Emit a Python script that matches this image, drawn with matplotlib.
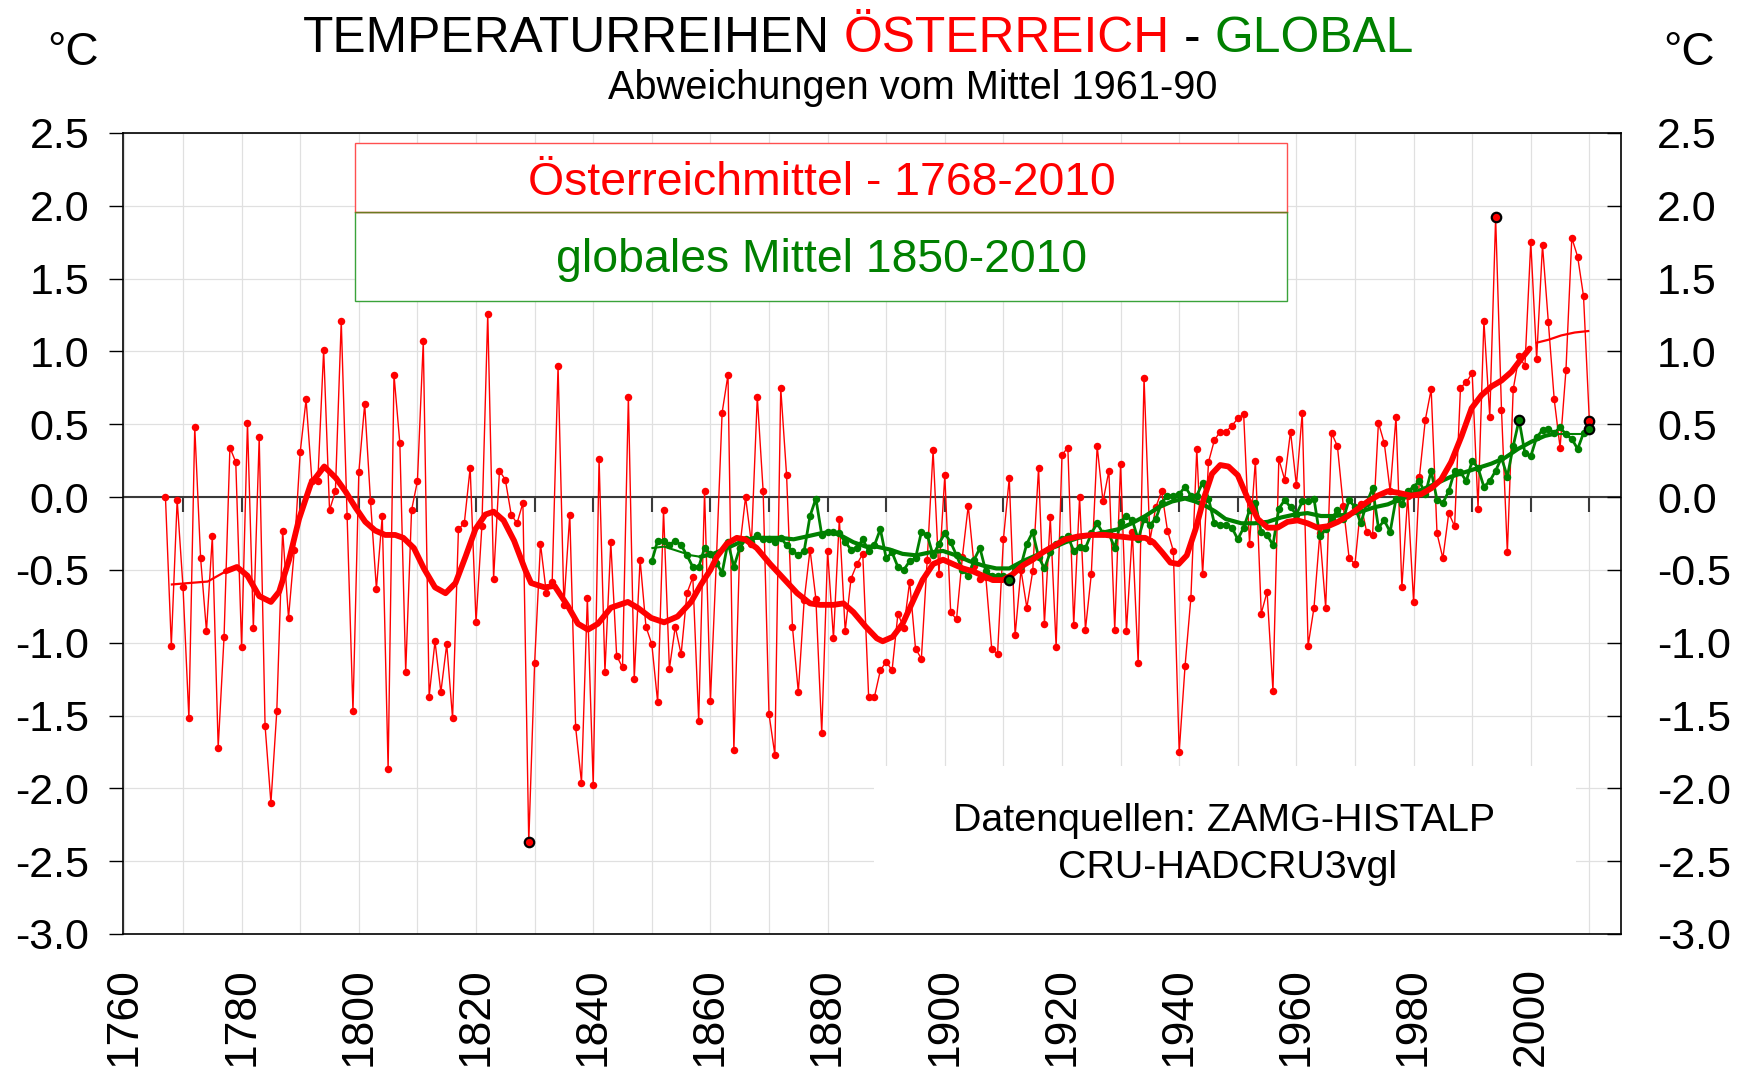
"""Temperaturreihen Österreich - global: annual anomalies vs. 1961-90 plus smoothed trends."""
import matplotlib

matplotlib.use("Agg")
import matplotlib.pyplot as plt
import numpy as np
from matplotlib.patches import Rectangle

plt.rcParams["font.family"] = ["Liberation Sans", "DejaVu Sans"]
plt.rcParams["axes.unicode_minus"] = False

RED = "#ff0000"
GREEN = "#008000"

# ── data ─────────────────────────────────────────────────────────────────────
aut_start = 1767
aut_vals = [
    # 1767-1798
    0.00, -1.02, -0.02, -0.62, -1.52, 0.48, -0.42, -0.92, -0.27, -1.72,
    -0.96, 0.34, 0.24, -1.03, 0.51, -0.90, 0.41, -1.57, -2.10, -1.47,
    -0.23, -0.83, -0.36, 0.31, 0.67, 0.11, 0.11, 1.01, -0.09, 0.04,
    1.21, -0.13,
    # 1799-1828
    -1.47, 0.17, 0.64, -0.03, -0.63, -0.13, -1.87, 0.84, 0.37, -1.20,
    -0.09, 0.11, 1.07, -1.37, -0.99, -1.34, -1.01, -1.52, -0.22, -0.18,
    0.20, -0.86, -0.20, 1.26, -0.56, 0.18, 0.12, -0.12, -0.18, -0.04,
    # 1829-1858
    -2.37, -1.14, -0.32, -0.66, -0.58, 0.90, -0.74, -0.12, -1.58, -1.96,
    -0.69, -1.98, 0.26, -1.20, -0.31, -1.09, -1.17, 0.69, -1.25, -0.43,
    -0.89, -1.01, -1.41, -0.09, -1.18, -0.89, -1.08, -0.66, -0.55, -1.54,
    # 1859-1888
    0.04, -1.40, -0.45, 0.58, 0.84, -1.74, -0.35, 0.00, -0.32, 0.69,
    0.04, -1.49, -1.77, 0.75, 0.15, -0.89, -1.34, -0.71, -0.36, -0.70,
    -1.62, -0.37, -0.97, -0.15, -0.92, -0.56, -0.46, -0.39, -1.37, -1.37,
    # 1889-1918
    -1.19, -1.13, -1.19, -0.80, -0.90, -0.58, -1.04, -1.11, -0.43, 0.32,
    -0.53, 0.15, -0.79, -0.84, -0.41, -0.06, -0.47, -0.56, -0.55, -1.04,
    -1.08, -0.29, 0.13, -0.95, -0.50, -0.76, -0.51, 0.20, -0.87, -0.14,
    # 1919-1948
    -1.03, 0.29, 0.34, -0.88, 0.00, -0.91, -0.53, 0.35, -0.03, 0.18,
    -0.91, 0.23, -0.92, -0.24, -1.14, 0.82, -0.30, -0.07, 0.04, -0.23,
    -0.37, -1.75, -1.16, -0.69, 0.33, -0.53, 0.24, 0.39, 0.45, 0.45,
    # 1949-1978
    0.49, 0.54, 0.57, -0.32, 0.25, -0.80, -0.65, -1.33, 0.26, 0.12,
    0.45, 0.08, 0.58, -1.02, -0.76, -0.25, -0.76, 0.44, 0.35, -0.06,
    -0.42, -0.46, -0.05, -0.24, -0.26, 0.51, 0.37, 0.04, 0.55, -0.62,
    # 1979-2010
    0.01, -0.72, 0.14, 0.53, 0.74, -0.25, -0.42, -0.11, -0.20, 0.75,
    0.79, 0.85, -0.08, 1.21, 0.55, 1.92, 0.60, -0.38, 0.74, 0.97,
    0.90, 1.75, 0.95, 1.73, 1.20, 0.67, 0.34, 0.87, 1.78, 1.65,
    1.38, 0.52,
]

glob_start = 1850
glob_vals = [
    # 1850-1858
    -0.44, -0.30, -0.30, -0.33, -0.30, -0.33, -0.40, -0.48, -0.48,
    # 1859-1888
    -0.35, -0.39, -0.45, -0.52, -0.31, -0.48, -0.35, -0.29, -0.31, -0.26,
    -0.29, -0.29, -0.31, -0.28, -0.33, -0.37, -0.40, -0.37, -0.13, -0.01,
    -0.26, -0.24, -0.24, -0.25, -0.31, -0.36, -0.35, -0.29, -0.37, -0.33,
    # 1889-1918
    -0.22, -0.42, -0.38, -0.48, -0.50, -0.44, -0.42, -0.24, -0.26, -0.40,
    -0.32, -0.25, -0.31, -0.40, -0.50, -0.54, -0.43, -0.35, -0.51, -0.54,
    -0.54, -0.54, -0.57, -0.48, -0.47, -0.32, -0.24, -0.41, -0.49, -0.38,
    # 1919-1948
    -0.32, -0.29, -0.27, -0.37, -0.34, -0.35, -0.25, -0.18, -0.25, -0.25,
    -0.35, -0.17, -0.13, -0.16, -0.29, -0.15, -0.19, -0.15, -0.04, 0.01,
    0.01, 0.02, 0.07, 0.01, 0.01, 0.10, -0.01, -0.18, -0.19, -0.19,
    # 1949-1978
    -0.21, -0.29, -0.21, -0.09, -0.04, -0.24, -0.26, -0.33, -0.08, -0.02,
    -0.07, -0.12, -0.03, -0.03, -0.01, -0.27, -0.22, -0.15, -0.09, -0.15,
    -0.02, -0.07, -0.18, -0.04, 0.06, -0.21, -0.16, -0.24, -0.01, -0.05,
    # 1979-2010
    0.04, 0.07, 0.11, 0.02, 0.18, -0.02, -0.04, 0.04, 0.18, 0.17,
    0.11, 0.25, 0.20, 0.07, 0.11, 0.18, 0.27, 0.14, 0.35, 0.53,
    0.30, 0.28, 0.41, 0.46, 0.47, 0.44, 0.48, 0.43, 0.40, 0.33,
    0.44, 0.47,
]

# smoothed trend lines (thin head/tail, thick body)
aut_trend_head_x = [1768.1, 1771.1, 1774.2, 1777.3]
aut_trend_head_y = [-0.60, -0.59, -0.58, -0.51]
aut_trend_x = [
    1777.3, 1779.2, 1781.0, 1783.0, 1785.0, 1786.4, 1788.1, 1789.8, 1791.8, 1794.1,
    1796.1, 1797.7, 1799.4, 1801.1, 1802.8, 1804.5, 1806.2, 1807.6, 1809.4, 1811.1,
    1813.0, 1814.8, 1816.5, 1818.2, 1819.9, 1821.6, 1823.0, 1824.7, 1826.5, 1828.4,
    1829.4, 1831.7, 1833.4, 1835.7, 1837.4, 1839.1, 1840.8, 1843.0, 1845.9, 1847.6,
    1849.9, 1852.1, 1854.4, 1856.7, 1858.4, 1860.0, 1861.1, 1862.8, 1864.5, 1865.9,
    1867.9, 1870.2, 1872.5, 1874.8, 1877.0, 1878.7, 1881.0, 1882.7, 1884.4, 1886.5,
    1888.4, 1889.4, 1891.1, 1892.8, 1894.5, 1896.2, 1898.0, 1899.7, 1901.4, 1903.1,
    1904.8, 1906.5, 1908.2, 1909.9, 1911.6, 1913.3, 1915.0, 1916.7, 1918.4, 1920.6,
    1922.8, 1925.1, 1927.4, 1929.7, 1931.9, 1934.2, 1935.6, 1937.1, 1938.5, 1939.9,
    1941.3, 1942.8, 1944.2, 1945.6, 1947.0, 1948.4, 1950.0, 1951.7, 1953.4, 1955.1,
    1956.8, 1958.5, 1960.2, 1961.9, 1963.6, 1965.4, 1967.1, 1968.8, 1970.5, 1972.2,
    1973.9, 1975.6, 1977.3, 1979.6, 1981.3, 1983.0, 1984.7, 1986.4, 1988.2, 1989.9,
    1991.6, 1993.3, 1995.0, 1996.7, 1998.4, 1999.8,
]
aut_trend_y = [
    -0.51, -0.48, -0.54, -0.68, -0.72, -0.65, -0.43, -0.15, 0.09, 0.21,
    0.13, 0.04, -0.07, -0.17, -0.23, -0.26, -0.26, -0.28, -0.35, -0.49,
    -0.62, -0.66, -0.59, -0.41, -0.22, -0.12, -0.10, -0.16, -0.30, -0.50,
    -0.59, -0.62, -0.61, -0.75, -0.87, -0.91, -0.87, -0.76, -0.72, -0.76,
    -0.83, -0.86, -0.82, -0.72, -0.60, -0.50, -0.41, -0.32, -0.28, -0.29,
    -0.35, -0.46, -0.56, -0.66, -0.73, -0.74, -0.74, -0.73, -0.79, -0.89,
    -0.97, -0.99, -0.96, -0.87, -0.72, -0.57, -0.46, -0.43, -0.46, -0.49,
    -0.51, -0.54, -0.57, -0.57, -0.53, -0.47, -0.43, -0.38, -0.34, -0.29,
    -0.27, -0.26, -0.26, -0.27, -0.28, -0.28, -0.31, -0.38, -0.45, -0.46,
    -0.40, -0.22, -0.01, 0.16, 0.22, 0.21, 0.15, -0.01, -0.15, -0.21,
    -0.21, -0.17, -0.16, -0.18, -0.21, -0.20, -0.17, -0.13, -0.08, -0.03,
    0.01, 0.04, 0.03, 0.01, 0.02, 0.06, 0.12, 0.24, 0.42, 0.61,
    0.70, 0.76, 0.80, 0.86, 0.95, 1.02,
]
aut_trend_tail_x = [2001.0, 2003.0, 2005.2, 2007.5, 2009.8]
aut_trend_tail_y = [1.06, 1.08, 1.11, 1.13, 1.14]

glob_trend_head_x = [1850.1, 1852.1, 1854.4, 1856.7, 1858.3]
glob_trend_head_y = [-0.35, -0.34, -0.37, -0.40, -0.41]
glob_trend_x = [
    1858.3, 1860.5, 1862.8, 1865.1, 1867.4, 1869.6, 1871.9, 1874.2, 1876.5, 1878.7,
    1880.4, 1882.1, 1884.4, 1886.5, 1888.3, 1890.6, 1892.8, 1895.1, 1897.4, 1899.7,
    1901.9, 1904.2, 1906.5, 1908.8, 1911.0, 1913.3, 1915.6, 1918.3, 1920.6, 1922.8,
    1925.1, 1927.4, 1929.7, 1931.9, 1934.2, 1936.5, 1938.8, 1941.0, 1942.7, 1944.5,
    1946.2, 1947.9, 1950.6, 1952.8, 1955.1, 1957.4, 1959.7, 1961.9, 1964.2, 1966.5,
    1968.8, 1971.0, 1973.3, 1975.6, 1977.9, 1979.6, 1981.9, 1984.2, 1986.4, 1988.7,
    1991.0, 1993.3, 1995.6, 1997.8, 2000.1, 2002.4, 2003.5,
]
glob_trend_y = [
    -0.41, -0.39, -0.35, -0.31, -0.28, -0.28, -0.28, -0.29, -0.27, -0.25,
    -0.24, -0.26, -0.31, -0.34, -0.34, -0.36, -0.39, -0.40, -0.38, -0.37,
    -0.40, -0.44, -0.47, -0.49, -0.49, -0.44, -0.40, -0.35, -0.31, -0.28,
    -0.26, -0.24, -0.22, -0.18, -0.13, -0.07, -0.03, -0.01, -0.03, -0.06,
    -0.10, -0.15, -0.18, -0.18, -0.17, -0.14, -0.12, -0.11, -0.13, -0.13,
    -0.12, -0.10, -0.07, -0.05, -0.01, 0.02, 0.06, 0.10, 0.14, 0.17,
    0.20, 0.23, 0.27, 0.33, 0.38, 0.42, 0.43,
]
glob_trend_tail_x = [2003.5, 2004.7, 2006.9, 2009.2, 2010.0]
glob_trend_tail_y = [0.43, 0.43, 0.43, 0.43, 0.43]

y_ticks = [2.5, 2.0, 1.5, 1.0, 0.5, 0.0, -0.5, -1.0, -1.5, -2.0, -2.5, -3.0]
x_ticks = [1760, 1780, 1800, 1820, 1840, 1860, 1880, 1900, 1920, 1940, 1960, 1980, 2000]


def main() -> None:
    aut_years = np.arange(aut_start, aut_start + len(aut_vals))
    glob_years = np.arange(glob_start, glob_start + len(glob_vals))
    aut = np.array(aut_vals)
    glob = np.array(glob_vals)

    fig = plt.figure(figsize=(17.5, 10.69), dpi=100)
    ax = fig.add_axes([0.0701, 0.1263, 0.8562, 0.7493])
    ax.set_xlim(1759.7, 2015.4)
    ax.set_ylim(-3.0, 2.5)

    # ── grid, frame, ticks ────────────────────────────────────────────────
    ax.set_axisbelow(True)
    ax.set_xticks(x_ticks)
    ax.set_xticks(np.arange(1770, 2011, 20), minor=True)
    ax.set_yticks(y_ticks)
    ax.set_yticklabels([f"{v:.1f}" for v in y_ticks])
    ax.grid(which="both", color="#e0e0e0", linewidth=0.9)
    ax.tick_params(axis="x", which="both", length=0, pad=24, labelsize=32,
                   labelrotation=90)
    ax.tick_params(axis="y", direction="out", length=10, width=1, pad=14,
                   labelsize=31)
    for sp in ax.spines.values():
        sp.set_linewidth(1.2)

    ax2 = ax.twinx()
    ax2.set_ylim(ax.get_ylim())
    ax2.set_yticks(y_ticks)
    ax2.set_yticklabels([f"{v:.1f}" for v in y_ticks])
    ax2.tick_params(axis="y", direction="in", length=10, width=1, pad=26,
                    labelsize=31)
    for sp in ax2.spines.values():
        sp.set_visible(False)

    # zero line with decade ticks hanging below it
    ax.axhline(0, color="#3a3a3a", linewidth=1.5, zorder=2)
    ax.vlines(np.arange(1770, 2011, 10), -0.1, 0, color="#3a3a3a",
              linewidth=1.5, zorder=2)

    # white panel behind the data-source note
    ax.add_patch(Rectangle((0.5014, 0.0), 0.4686, 0.2097, transform=ax.transAxes,
                           facecolor="white", edgecolor="none", zorder=1))

    # ── annual series ─────────────────────────────────────────────────────
    ax.plot(aut_years, aut, color=RED, linewidth=1.0, marker="o", markersize=5.4,
            markeredgewidth=0, zorder=3)
    ax.plot(glob_years, glob, color=GREEN, linewidth=2.0, marker="o",
            markersize=5.4, markeredgewidth=0, zorder=4)

    # extremes + last year outlined in black
    for yrs, vals, col in ((aut_years, aut, RED), (glob_years, glob, GREEN)):
        idx = [int(np.argmin(vals)), int(np.argmax(vals)), len(vals) - 1]
        ax.plot(yrs[idx], vals[idx], linestyle="none", marker="o", markersize=6.8,
                markerfacecolor=col, markeredgecolor="black", markeredgewidth=1.6,
                zorder=7)

    # ── smoothed trends ───────────────────────────────────────────────────
    ax.plot(glob_trend_head_x, glob_trend_head_y, color=GREEN, linewidth=1.5, zorder=5)
    ax.plot(glob_trend_x, glob_trend_y, color=GREEN, linewidth=3.0,
            solid_capstyle="round", zorder=5)
    ax.plot(glob_trend_tail_x, glob_trend_tail_y, color=GREEN, linewidth=1.5, zorder=5)
    ax.plot(aut_trend_head_x, aut_trend_head_y, color=RED, linewidth=1.6, zorder=6)
    ax.plot(aut_trend_x, aut_trend_y, color=RED, linewidth=4.2,
            solid_capstyle="round", zorder=6)
    ax.plot(aut_trend_tail_x, aut_trend_tail_y, color=RED, linewidth=1.6, zorder=6)

    # ── legend box ────────────────────────────────────────────────────────
    ax.add_patch(Rectangle((0.155, 0.7903), 0.622, 0.1111, transform=ax.transAxes,
                           facecolor="white", edgecolor="#3aa33a", linewidth=1.0,
                           zorder=8))
    ax.add_patch(Rectangle((0.155, 0.9014), 0.622, 0.0861, transform=ax.transAxes,
                           facecolor="white", edgecolor="#ff5050", linewidth=1.0,
                           zorder=8))
    ax.plot([0.155, 0.777], [0.9014, 0.9014], transform=ax.transAxes,
            color="#6b7a20", linewidth=1.0, zorder=9)
    ax.text(0.4664, 0.938, "Österreichmittel - 1768-2010", transform=ax.transAxes,
            ha="center", va="center", fontsize=33.4, color=RED, zorder=9)
    ax.text(0.4664, 0.8414, "globales Mittel 1850-2010", transform=ax.transAxes,
            ha="center", va="center", fontsize=33.4, color=GREEN, zorder=9)

    # data-source note
    ax.text(0.735, 0.141, "Datenquellen: ZAMG-HISTALP", transform=ax.transAxes,
            ha="center", va="center", fontsize=28.4, color="black", zorder=9)
    ax.text(0.7375, 0.0824, "CRU-HADCRU3vgl", transform=ax.transAxes,
            ha="center", va="center", fontsize=28.4, color="black", zorder=9)

    # ── titles and unit labels ────────────────────────────────────────────
    fig.text(0.0269, 0.9392, "°C", fontsize=33, ha="left", va="baseline")
    fig.text(0.9503, 0.9392, "°C", fontsize=33, ha="left", va="baseline")

    title_size = 35.8
    gap = 0.278 * title_size  # width of a space
    t = fig.text(0.1731, 0.9516, "TEMPERATURREIHEN", fontsize=title_size,
                 color="black", ha="left", va="baseline")
    for piece, col in (("ÖSTERREICH", RED), ("-", "black"), ("GLOBAL", GREEN)):
        t = ax.annotate(piece, xy=(1, 0), xycoords=t, xytext=(gap, 0),
                        textcoords="offset points", fontsize=title_size, color=col,
                        ha="left", va="bottom", annotation_clip=False)

    fig.text(0.5214, 0.9075, "Abweichungen vom Mittel 1961-90", fontsize=28.6,
             ha="center", va="baseline")

    fig.savefig("out.png", dpi=100)
    plt.close(fig)


if __name__ == "__main__":
    main()
